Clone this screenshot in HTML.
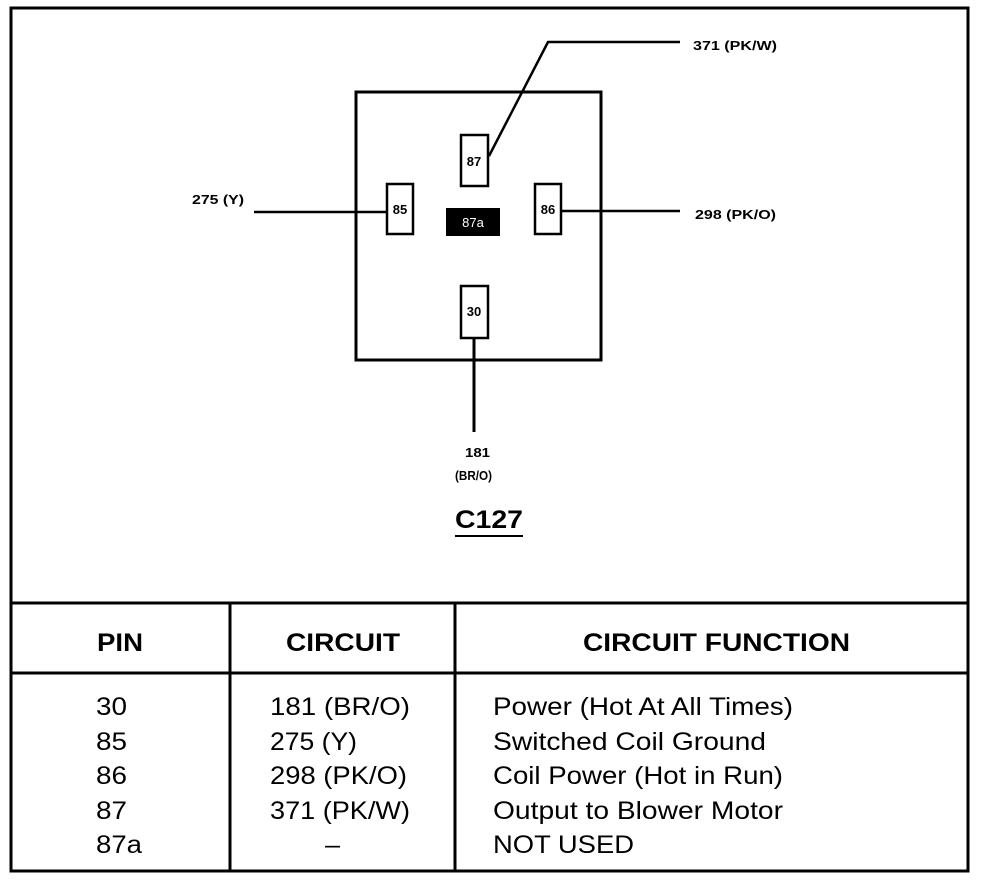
<!DOCTYPE html>
<html><head><style>
html,body{margin:0;padding:0;background:#fff;}
svg{display:block;}
text{font-family:"Liberation Sans",Arial,sans-serif;fill:#000;}
</style></head><body>
<svg width="992" height="882" viewBox="0 0 992 882" xmlns="http://www.w3.org/2000/svg">
<rect x="0" y="0" width="992" height="882" fill="#fff"/>
<rect x="11" y="8" width="957" height="863" fill="none" stroke="#000" stroke-width="3"/>
<rect x="356" y="92" width="245" height="268" fill="none" stroke="#000" stroke-width="3"/>
<rect x="461" y="135" width="27" height="51" fill="#fff" stroke="#000" stroke-width="2.5"/>
<rect x="387" y="184" width="26" height="50" fill="#fff" stroke="#000" stroke-width="2.5"/>
<rect x="535" y="184" width="26" height="50" fill="#fff" stroke="#000" stroke-width="2.5"/>
<rect x="461" y="286" width="27" height="52" fill="#fff" stroke="#000" stroke-width="2.5"/>
<rect x="446" y="208" width="54" height="28" fill="#000"/>
<text x="474" y="166" font-size="13" font-weight="bold" text-anchor="middle">87</text>
<text x="400" y="214" font-size="13" font-weight="bold" text-anchor="middle">85</text>
<text x="548" y="214" font-size="13" font-weight="bold" text-anchor="middle">86</text>
<text x="474" y="316" font-size="13" font-weight="bold" text-anchor="middle">30</text>
<text x="473" y="227" font-size="13" text-anchor="middle" style="fill:#fff">87a</text>
<polyline points="489,156 548,42 680,42" fill="none" stroke="#000" stroke-width="2.5"/>
<line x1="254" y1="212" x2="387" y2="212" stroke="#000" stroke-width="2.5"/>
<line x1="561" y1="211" x2="680" y2="211" stroke="#000" stroke-width="2.5"/>
<line x1="474" y1="338" x2="474" y2="432" stroke="#000" stroke-width="3"/>
<g font-size="13" font-weight="bold" lengthAdjust="spacingAndGlyphs">
<text x="693" y="50" textLength="84" lengthAdjust="spacingAndGlyphs">371 (PK/W)</text>
<text x="695" y="219" textLength="81" lengthAdjust="spacingAndGlyphs">298 (PK/O)</text>
<text x="192" y="204" textLength="52" lengthAdjust="spacingAndGlyphs">275 (Y)</text>
<text x="465" y="457" textLength="25" lengthAdjust="spacingAndGlyphs">181</text>
<text x="455" y="480" textLength="37" lengthAdjust="spacingAndGlyphs">(BR/O)</text>
</g>
<text x="455" y="528" font-size="25" font-weight="bold" textLength="68" lengthAdjust="spacingAndGlyphs">C127</text>
<line x1="455" y1="536" x2="523" y2="536" stroke="#000" stroke-width="2"/>
<line x1="11" y1="603" x2="968" y2="603" stroke="#000" stroke-width="3"/>
<line x1="11" y1="673" x2="968" y2="673" stroke="#000" stroke-width="3"/>
<line x1="230" y1="603" x2="230" y2="871" stroke="#000" stroke-width="3"/>
<line x1="455" y1="603" x2="455" y2="871" stroke="#000" stroke-width="3"/>
<text x="97" y="651" font-size="25" font-weight="bold" textLength="46" lengthAdjust="spacingAndGlyphs">PIN</text>
<text x="286" y="651" font-size="25" font-weight="bold" textLength="114" lengthAdjust="spacingAndGlyphs">CIRCUIT</text>
<text x="583" y="651" font-size="25" font-weight="bold" textLength="267" lengthAdjust="spacingAndGlyphs">CIRCUIT FUNCTION</text>
<g font-size="25">
<text x="96" y="715" textLength="31" lengthAdjust="spacingAndGlyphs">30</text>
<text x="96" y="750" textLength="31" lengthAdjust="spacingAndGlyphs">85</text>
<text x="96" y="784" textLength="31" lengthAdjust="spacingAndGlyphs">86</text>
<text x="96" y="819" textLength="31" lengthAdjust="spacingAndGlyphs">87</text>
<text x="96" y="853" textLength="46" lengthAdjust="spacingAndGlyphs">87a</text>
<text x="270" y="715" textLength="140" lengthAdjust="spacingAndGlyphs">181 (BR/O)</text>
<text x="270" y="750" textLength="87" lengthAdjust="spacingAndGlyphs">275 (Y)</text>
<text x="270" y="784" textLength="137" lengthAdjust="spacingAndGlyphs">298 (PK/O)</text>
<text x="270" y="819" textLength="140" lengthAdjust="spacingAndGlyphs">371 (PK/W)</text>
<text x="325" y="853" textLength="15" lengthAdjust="spacingAndGlyphs">–</text>
<text x="493" y="715" textLength="300" lengthAdjust="spacingAndGlyphs">Power (Hot At All Times)</text>
<text x="493" y="750" textLength="273" lengthAdjust="spacingAndGlyphs">Switched Coil Ground</text>
<text x="493" y="784" textLength="290" lengthAdjust="spacingAndGlyphs">Coil Power (Hot in Run)</text>
<text x="493" y="819" textLength="290" lengthAdjust="spacingAndGlyphs">Output to Blower Motor</text>
<text x="493" y="853" textLength="141" lengthAdjust="spacingAndGlyphs">NOT USED</text>
</g>
</svg>
</body></html>
